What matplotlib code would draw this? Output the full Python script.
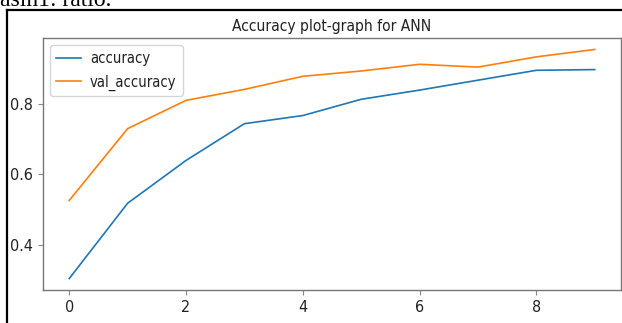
import matplotlib
matplotlib.use("Agg")
import matplotlib.pyplot as plt
from matplotlib.lines import Line2D
from matplotlib import font_manager

# epochs and accuracy values
epochs = [0, 1, 2, 3, 4, 5, 6, 7, 8, 9]
accuracy = [0.305, 0.518, 0.639, 0.743, 0.766, 0.812, 0.838, 0.866, 0.894, 0.896]
val_accuracy = [0.526, 0.729, 0.809, 0.840, 0.877, 0.892, 0.911, 0.903, 0.932, 0.953]
x_ticks = [0, 2, 4, 6, 8]
y_ticks = [0.4, 0.6, 0.8]

# the screenshot text is squeezed, so use the condensed DejaVu if it is there
cond = [f for f in font_manager.fontManager.ttflist
        if f.name == "DejaVu Sans" and f.stretch not in ("normal", 500)]
if cond:
    plt.rcParams["font.stretch"] = "condensed"

fig = plt.figure(figsize=(6.22, 3.23), dpi=100)
ax = fig.add_axes([0.0691, 0.1022, 0.9293, 0.7802])

ax.plot(epochs, accuracy, color="#1f77b4", lw=1.2, label="accuracy")
ax.plot(epochs, val_accuracy, color="#ff7f0e", lw=1.2, label="val_accuracy")

ax.set_xticks(x_ticks)
ax.set_yticks(y_ticks)
ax.tick_params(labelsize=11.5, length=3.5, width=0.8, colors="#888888", labelcolor="#222222")
for s in ax.spines.values():
    s.set_color("#777777")
    s.set_linewidth(1.0)

ax.set_title("Accuracy plot-graph for ANN", fontsize=11.2, color="#222222", pad=5)
leg = ax.legend(loc="upper left", fontsize=10.6, framealpha=0.8,
                handlelength=1.7, handletextpad=0.6, borderpad=0.4, labelspacing=0.55)
for t in leg.get_texts():
    t.set_color("#222222")

# frame of the document page around the chart
fig.add_artist(Line2D([6.5 / 622, 6.5 / 622], [0, 1 - 9.5 / 323], color="black",
                      lw=1.6, transform=fig.transFigure))
fig.add_artist(Line2D([6.5 / 622, 1], [1 - 9.5 / 323, 1 - 9.5 / 323], color="black",
                      lw=1.6, transform=fig.transFigure))
# clipped caption text above the frame
fig.text(0.0, 1 - 5.5 / 323, "asin1: ratio.", fontsize=17, family="Liberation Serif",
         va="baseline", ha="left", color="black")

fig.savefig("out.png", dpi=100)
